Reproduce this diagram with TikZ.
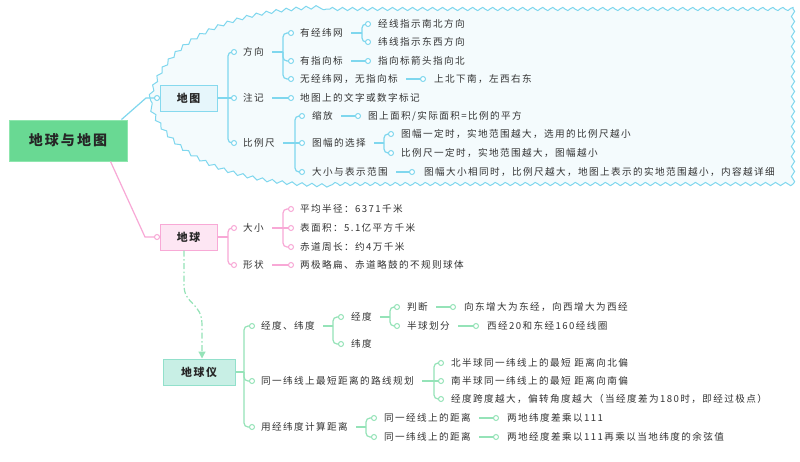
\documentclass[tikz,border=0pt]{standalone}
\usepackage{fontspec}
\setmainfont{Noto Sans CJK SC}[LetterSpace=14.6]
\usetikzlibrary{decorations.pathmorphing,arrows.meta}
\definecolor{bl}{HTML}{7FD7EE}
\definecolor{pk}{HTML}{F8A8D6}
\definecolor{gr}{HTML}{95E3B8}
\definecolor{tx}{HTML}{333333}
\definecolor{cloudf}{HTML}{F4FBFD}
\definecolor{rootf}{HTML}{69D993}
\definecolor{rootd}{HTML}{8FE6AE}
\definecolor{mapf}{HTML}{E6F6FB}
\definecolor{mapd}{HTML}{86D9EE}
\definecolor{earthf}{HTML}{FDE6F3}
\definecolor{earthd}{HTML}{F8A9D6}
\definecolor{globef}{HTML}{C8EFE5}
\definecolor{globed}{HTML}{92E0CB}
\begin{document}
\begin{tikzpicture}[x=1pt,y=-1pt,
  txt/.style={anchor=west,inner sep=0pt,text=tx,font=\fontsize{9.6}{9.6}\selectfont},
  lnb/.style={draw=bl,line width=1.2pt,rounded corners=4pt},
  lnp/.style={draw=pk,line width=1.2pt,rounded corners=4pt},
  lng/.style={draw=gr,line width=1.2pt,rounded corners=4pt},
  dotb/.style={circle,draw=bl,fill=white,line width=1pt,inner sep=0pt,minimum size=5pt},
  dotp/.style={circle,draw=pk,fill=white,line width=1pt,inner sep=0pt,minimum size=5pt},
  dotg/.style={circle,draw=gr,fill=white,line width=1pt,inner sep=0pt,minimum size=5pt},
  wavy/.style={decoration={snake,amplitude=1.6pt,segment length=10pt}},
  topicbox/.style={line width=1pt,minimum height=26pt,inner sep=0pt,text=black!85,font=\fontsize{10.9}{10}\selectfont\bfseries}]
\useasboundingbox (0,0) rectangle (800,461);
\fill[white] (0,0) rectangle (800,461);
% cloud
\path[draw=bl,fill=cloudf,line width=1pt]
  (150,98) decorate[wavy] {.. controls (165,45) and (220,12) .. (330,9)}
  -- plot[domain=330:793,samples=186,smooth] (\x,{9-1.6*sin(36*mod(\x-330,10))})
  -- plot[domain=9:184,samples=71,smooth] ({793+1.6*sin(36*mod(\x-9,10))},\x)
  -- plot[domain=793:330,samples=186,smooth] (\x,{184+1.6*sin(36*mod(793-\x,10))})
  decorate[wavy] {.. controls (220,183) and (165,150) .. (150,98)} -- cycle;
% central topics
\node[draw=rootd,fill=rootf,line width=1pt,minimum width=118pt,minimum height=41pt,inner sep=0pt,font=\fontsize{14}{14}\selectfont\bfseries,text=black!85] (root) at (68,140.5) {地球与地图};
\node[topicbox,draw=mapd,fill=mapf,minimum width=57pt] (map) at (188.5,98) {地图};
\node[topicbox,draw=earthd,fill=earthf,minimum width=57pt] (earth) at (188.5,237) {地球};
\node[topicbox,draw=globed,fill=globef,minimum width=72pt] (globe) at (199,372) {地球仪};
% root connectors
\coordinate (rA) at ([xshift=-6pt]root.north east);
\coordinate (rB) at (146,98);
\coordinate (b0) at (157,98);
\draw[lnb,rounded corners=0] (rA) -- (rB) -- (map.west);
\coordinate (rC) at ([xshift=-17pt]root.south east);
\coordinate (rD) at (145,237);
\coordinate (p0) at (157,237);
\draw[lnp,rounded corners=0] (rC) -- (rD) -- (earth.west);
% earth -> globe
\coordinate (eA) at (184,285);
\coordinate (eB) at (202,325);
\draw[draw=gr,line width=1.2pt,dash pattern=on 6pt off 2.5pt on 1.5pt off 2.5pt,-{Triangle[width=7pt,length=7pt]}]
  ([xshift=-4.5pt]earth.south) -- (eA) .. controls (184,305) and (202,302) .. (eB) -- ([xshift=3pt]globe.north);

%================ BLUE ================
\coordinate (bS1) at (228,98);
\coordinate (b1) at (234,52);
\coordinate (b2) at (234,98);
\coordinate (b3) at (234,143);
\draw[lnb] (map.east) -- (bS1);
\draw[lnb] (bS1) |- (b1);
\draw[lnb] (bS1) -- (b2);
\draw[lnb] (bS1) |- (b3);
\node[txt] (t1) at (243,52) {方向};
\node[txt] (t2) at (243,98) {注记};
\node[txt] (t3) at (243,143) {比例尺};
% 方向
\coordinate (bS2) at (283,52);
\coordinate (b4) at (291,33);
\coordinate (b5) at (291,61);
\coordinate (b6) at (291,79);
\draw[lnb] ([xshift=8pt]t1.east) -- (bS2);
\draw[lnb] (bS2) |- (b4);
\draw[lnb] (bS2) |- (b5);
\draw[lnb] (bS2) |- (b6);
\node[txt] (t4) at (300,33) {有经纬网};
\node[txt] (t5) at (300,61) {有指向标};
\node[txt] (t6) at (300,79) {无经纬网，无指向标};
% 有经纬网
\coordinate (bS3) at (362,33);
\coordinate (b7) at (368,24);
\coordinate (b8) at (368,42);
\draw[lnb] ([xshift=8pt]t4.east) -- (bS3);
\draw[lnb] (bS3) |- (b7);
\draw[lnb] (bS3) |- (b8);
\node[txt] (t7) at (378,24) {经线指示南北方向};
\node[txt] (t8) at (378,42) {纬线指示东西方向};
% 有指向标
\coordinate (b9) at (368,61);
\draw[lnb] ([xshift=8pt]t5.east) -- (b9);
\node[txt] (t9) at (378,61) {指向标箭头指向北};
% 无经纬网
\coordinate (b10) at (423,79);
\draw[lnb] ([xshift=8pt]t6.east) -- (b10);
\node[txt] (t10) at (434,79) {上北下南，左西右东};
% 注记
\coordinate (b11) at (291,98);
\draw[lnb] ([xshift=8pt]t2.east) -- (b11);
\node[txt] (t11) at (300,98) {地图上的文字或数字标记};
% 比例尺
\coordinate (bS4) at (295,143);
\coordinate (b12) at (302,116);
\coordinate (b13) at (302,143);
\coordinate (b14) at (302,172);
\draw[lnb] ([xshift=8pt]t3.east) -- (bS4);
\draw[lnb] (bS4) |- (b12);
\draw[lnb] (bS4) -- (b13);
\draw[lnb] (bS4) |- (b14);
\node[txt] (t12) at (312,116) {缩放};
\node[txt] (t13) at (312,143) {图幅的选择};
\node[txt] (t14) at (312,172) {大小与表示范围};
\coordinate (b15) at (358,116);
\draw[lnb] ([xshift=8pt]t12.east) -- (b15);
\node[txt] (t15) at (368,116) {图上面积/实际面积=比例的平方};
\coordinate (bS5) at (384,143);
\coordinate (b16) at (391,134);
\coordinate (b17) at (391,153);
\draw[lnb] ([xshift=8pt]t13.east) -- (bS5);
\draw[lnb] (bS5) |- (b16);
\draw[lnb] (bS5) |- (b17);
\node[txt] (t16) at (401,134) {图幅一定时，实地范围越大，选用的比例尺越小};
\node[txt] (t17) at (401,153) {比例尺一定时，实地范围越大，图幅越小};
\coordinate (b18) at (412,172);
\draw[lnb] ([xshift=8pt]t14.east) -- (b18);
\node[txt] (t18) at (424,172) {图幅大小相同时，比例尺越大，地图上表示的实地范围越小，内容越详细};
\foreach \i in {0,...,18} \node[dotb] at (b\i) {};

%================ PINK ================
\coordinate (pS1) at (228,237);
\coordinate (p1) at (234,228);
\coordinate (p2) at (234,265);
\draw[lnp] (earth.east) -- (pS1);
\draw[lnp] (pS1) |- (p1);
\draw[lnp] (pS1) |- (p2);
\node[txt] (q1) at (243,228) {大小};
\node[txt] (q2) at (243,265) {形状};
\coordinate (pS2) at (283,228);
\coordinate (p3) at (291,209);
\coordinate (p4) at (291,228);
\coordinate (p5) at (291,247);
\draw[lnp] ([xshift=8pt]q1.east) -- (pS2);
\draw[lnp] (pS2) |- (p3);
\draw[lnp] (pS2) -- (p4);
\draw[lnp] (pS2) |- (p5);
\node[txt] (q3) at (300,209) {平均半径：6371千米};
\node[txt] (q4) at (300,228) {表面积：5.1亿平方千米};
\node[txt] (q5) at (300,247) {赤道周长：约4万千米};
\coordinate (p6) at (291,265);
\draw[lnp] ([xshift=8pt]q2.east) -- (p6);
\node[txt] (q6) at (300,265) {两极略扁、赤道略鼓的不规则球体};
\foreach \i in {0,...,6} \node[dotp] at (p\i) {};

%================ GREEN ================
\coordinate (gS1) at (244,372);
\coordinate (g1) at (252,326);
\coordinate (g2) at (252,381);
\coordinate (g3) at (252,427);
\draw[lng] (globe.east) -- (gS1);
\draw[lng] (gS1) |- (g1);
\draw[lng] (gS1) |- (g2);
\draw[lng] (gS1) |- (g3);
\node[txt] (h1) at (261,326) {经度、纬度};
\node[txt] (h2) at (261,381) {同一纬线上最短距离的路线规划};
\node[txt] (h3) at (261,427) {用经纬度计算距离};
% 经度、纬度
\coordinate (gS2) at (333,326);
\coordinate (g4) at (341,317);
\coordinate (g5) at (341,344);
\draw[lng] ([xshift=8pt]h1.east) -- (gS2);
\draw[lng] (gS2) |- (g4);
\draw[lng] (gS2) |- (g5);
\node[txt] (h4) at (351,317) {经度};
\node[txt] (h5) at (351,344) {纬度};
% 经度
\coordinate (gS3) at (390,317);
\coordinate (g6) at (397,307);
\coordinate (g7) at (397,326);
\draw[lng] ([xshift=8pt]h4.east) -- (gS3);
\draw[lng] (gS3) |- (g6);
\draw[lng] (gS3) |- (g7);
\node[txt] (h6) at (407,307) {判断};
\node[txt] (h7) at (407,326) {半球划分};
\coordinate (g8) at (453,307);
\draw[lng] ([xshift=8pt]h6.east) -- (g8);
\node[txt] (h8) at (464,307) {向东增大为东经，向西增大为西经};
\coordinate (g9) at (476,326);
\draw[lng] ([xshift=8pt]h7.east) -- (g9);
\node[txt] (h9) at (487,326) {西经20和东经160经线圈};
% 路线规划
\coordinate (gS4) at (434,381);
\coordinate (g10) at (441,363);
\coordinate (g11) at (441,381);
\coordinate (g12) at (441,399);
\draw[lng] ([xshift=8pt]h2.east) -- (gS4);
\draw[lng] (gS4) |- (g10);
\draw[lng] (gS4) -- (g11);
\draw[lng] (gS4) |- (g12);
\node[txt] (h10) at (451,363) {北半球同一纬线上的最短 距离向北偏};
\node[txt] (h11) at (451,381) {南半球同一纬线上的最短 距离向南偏};
\node[txt] (h12) at (451,399) {经度跨度越大，偏转角度越大（当经度差为180时，即经过极点）};
% 计算距离
\coordinate (gS5) at (366,427);
\coordinate (g13) at (374,418);
\coordinate (g14) at (374,437);
\draw[lng] ([xshift=8pt]h3.east) -- (gS5);
\draw[lng] (gS5) |- (g13);
\draw[lng] (gS5) |- (g14);
\node[txt] (h13) at (384,418) {同一经线上的距离};
\node[txt] (h14) at (384,437) {同一纬线上的距离};
\coordinate (g15) at (496,418);
\coordinate (g16) at (496,437);
\draw[lng] ([xshift=8pt]h13.east) -- (g15);
\draw[lng] ([xshift=8pt]h14.east) -- (g16);
\node[txt] (h15) at (507,418) {两地纬度差乘以111};
\node[txt] (h16) at (507,437) {两地经度差乘以111再乘以当地纬度的余弦值};
\foreach \i in {1,...,16} \node[dotg] at (g\i) {};
\end{tikzpicture}
\end{document}
